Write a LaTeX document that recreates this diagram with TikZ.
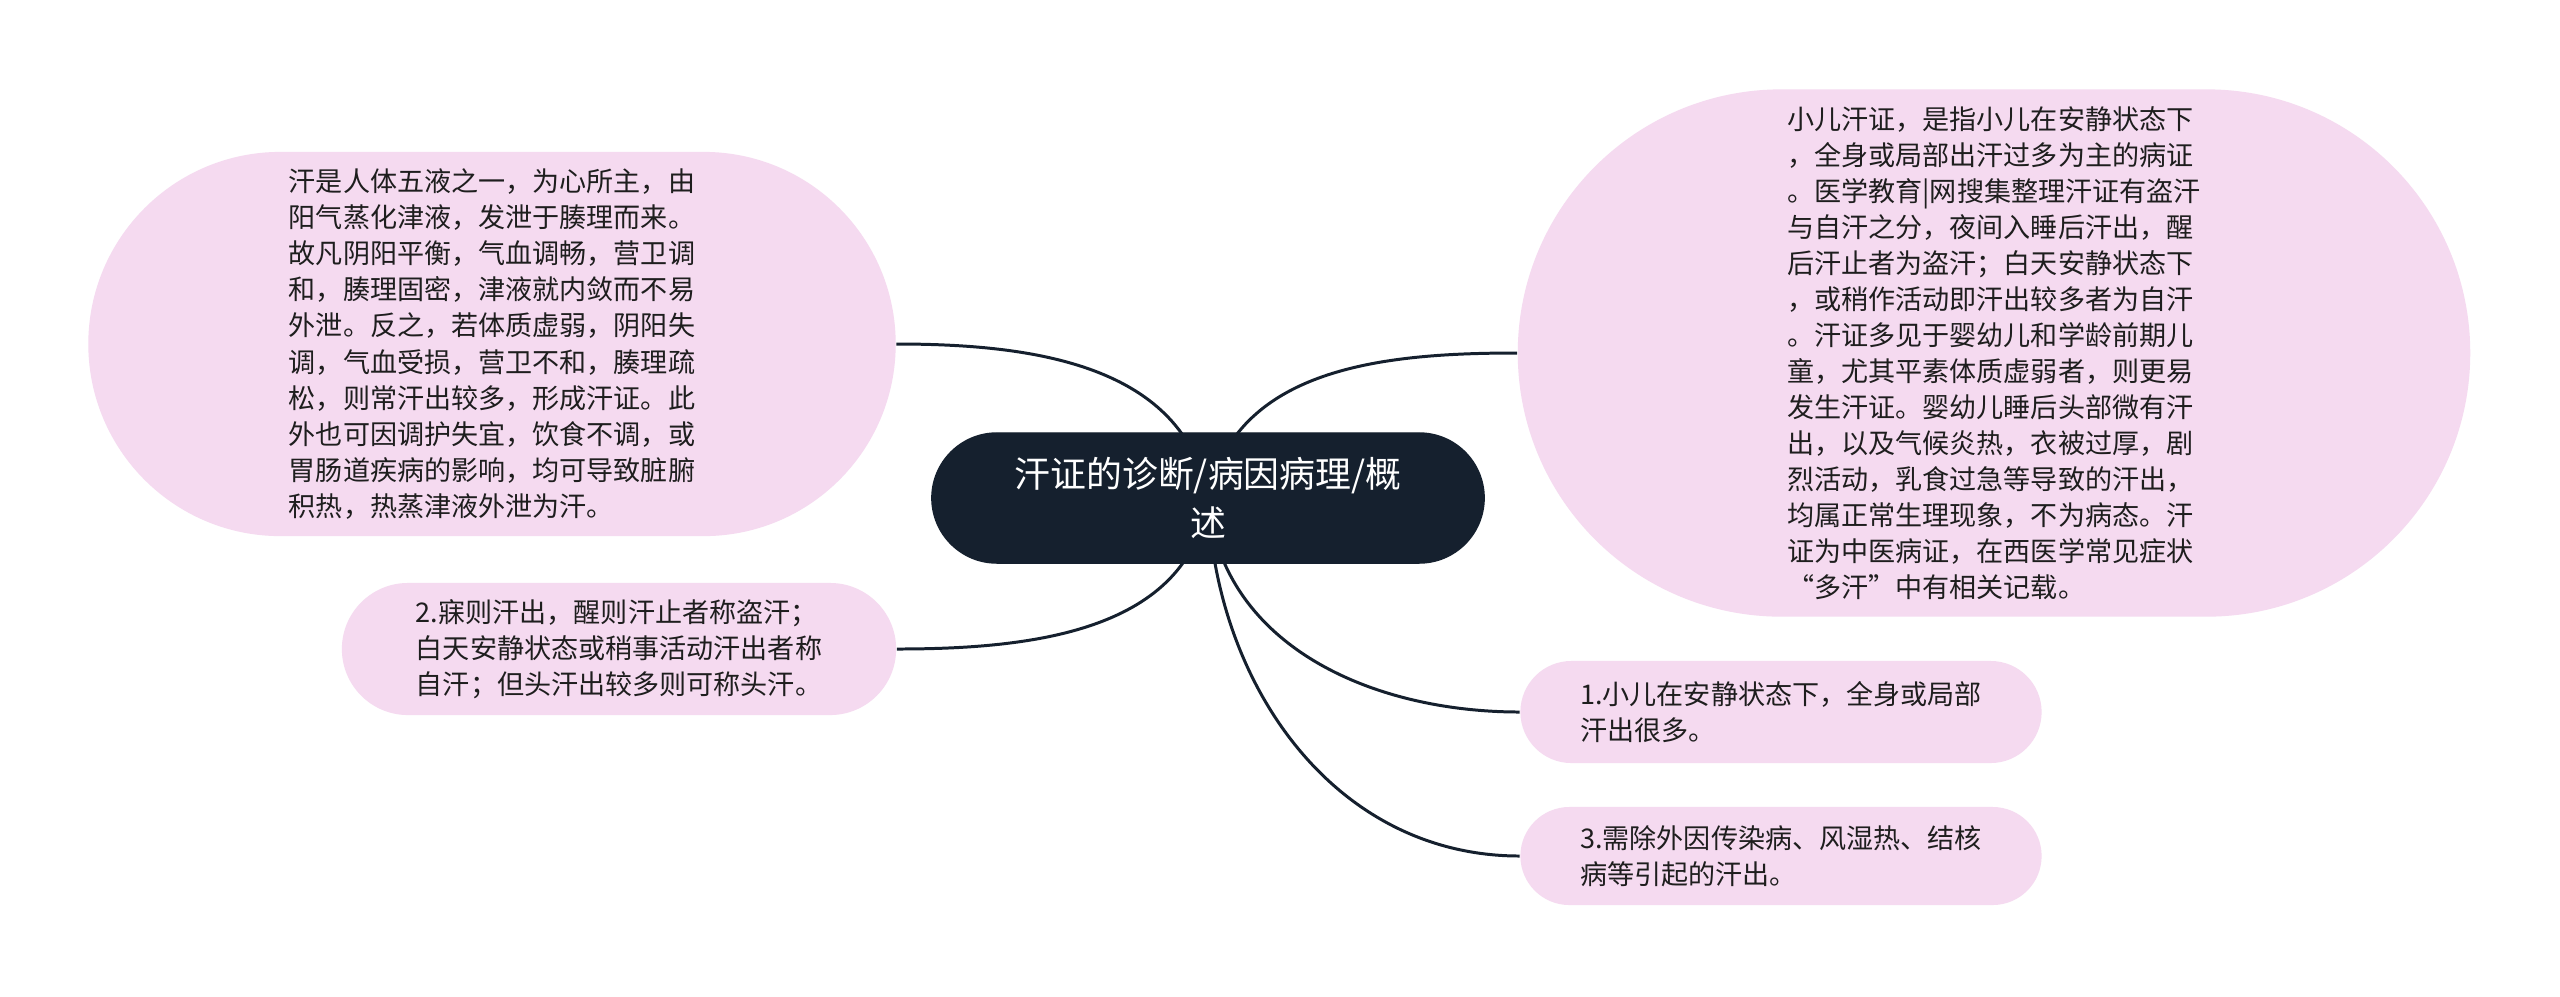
\documentclass[tikz,border=0pt]{standalone}
\usepackage{fontspec}
\usepackage{tikz}
\usetikzlibrary{backgrounds, calc, positioning, shapes.misc}
\newfontfamily\cjk{Noto Sans CJK SC}
\definecolor{navy}{RGB}{21,32,46}
\definecolor{leafpink}{RGB}{245,218,240}
\definecolor{leaftext}{RGB}{30,30,30}
\tikzstyle{topic}=[fill=navy, draw=navy, shape=rounded rectangle, text=white, align=center, inner xsep=2pt, inner ysep=0pt, font=\cjk\fontsize{10.2pt}{13.7pt}\selectfont]
\tikzstyle{leaf}=[fill=leafpink, shape=rounded rectangle, text=leaftext, align=left, inner xsep=2pt, inner ysep=0pt, font=\cjk\fontsize{7.7pt}{10.25pt}\selectfont]
\tikzstyle{link}=[draw=navy, line width=0.85pt]

\begin{document}
\begin{tikzpicture}[x=0.01cm, y=-0.01cm]
	\useasboundingbox (0,0) rectangle (2560,996);

	\node[style=topic, minimum width=5.66cm, minimum height=1.3cm] (0) at (1208,498) {汗证的诊断/病因病理/概\\述};
	\node[style=leaf, minimum width=8.21cm, minimum height=3.84cm] (1) at (492,344) {汗是人体五液之一，为心所主，由\\阳气蒸化津液，发泄于腠理而来。\\故凡阴阳平衡，气血调畅，营卫调\\和，腠理固密，津液就内敛而不易\\外泄。反之，若体质虚弱，阴阳失\\调，气血受损，营卫不和，腠理疏\\松，则常汗出较多，形成汗证。此\\外也可因调护失宜，饮食不调，或\\胃肠道疾病的影响，均可导致脏腑\\积热，热蒸津液外泄为汗。};
	\node[style=leaf, minimum width=5.68cm, minimum height=1.32cm] (2) at (619,649) {2.寐则汗出，醒则汗止者称盗汗；\\白天安静状态或稍事活动汗出者称\\自汗；但头汗出较多则可称头汗。};
	\node[style=leaf, minimum width=9.66cm, minimum height=5.27cm] (3) at (1994,353) {小儿汗证，是指小儿在安静状态下\\，全身或局部出汗过多为主的病证\\。医学教育|网搜集整理汗证有盗汗\\与自汗之分，夜间入睡后汗出，醒\\后汗止者为盗汗；白天安静状态下\\，或稍作活动即汗出较多者为自汗\\。汗证多见于婴幼儿和学龄前期儿\\童，尤其平素体质虚弱者，则更易\\发生汗证。婴幼儿睡后头部微有汗\\出，以及气候炎热，衣被过厚，剧\\烈活动，乳食过急等导致的汗出，\\均属正常生理现象，不为病态。汗\\证为中医病证，在西医学常见症状\\“多汗”中有相关记载。};
	\node[style=leaf, minimum width=5.35cm, minimum height=1.02cm] (4) at (1781,712) {1.小儿在安静状态下，全身或局部\\汗出很多。};
	\node[style=leaf, minimum width=5.35cm, minimum height=0.98cm] (5) at (1781,856) {3.需除外因传染病、风湿热、结核\\病等引起的汗出。};

	\begin{scope}[on background layer]
		\fill[white] (0,0) rectangle (2560,996);
		\draw[style=link] (0.center) to[out=100, in=0] (1.east);
		\draw[style=link] (0.center) to[out=262, in=0] (2.east);
		\draw[style=link] (0.center) to[out=78, in=180] (3.west);
		\draw[style=link] (0.center) to[out=275, in=180] (4.west);
		\draw[style=link] (0.center) to[out=272, in=180] (5.west);
	\end{scope}
\end{tikzpicture}
\end{document}
